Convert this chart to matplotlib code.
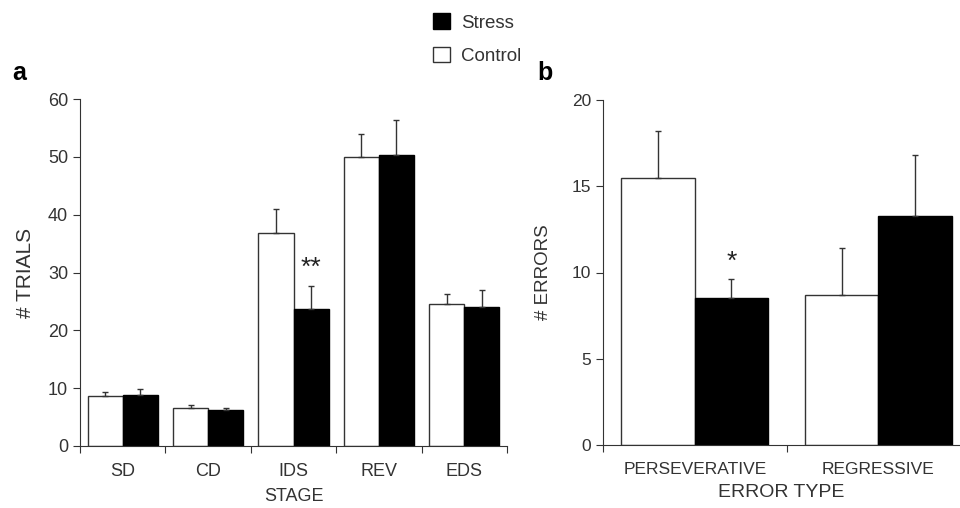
import matplotlib.pyplot as plt
import numpy as np
from matplotlib.patches import Patch

plt.rcParams['font.family'] = ['Liberation Sans', 'DejaVu Sans']

# panel a: trials per stage
stages = ['SD', 'CD', 'IDS', 'REV', 'EDS']
trials_control = [8.7, 6.6, 36.8, 50.0, 24.5]
trials_control_err = [0.7, 0.5, 4.2, 4.0, 1.7]
trials_stress = [8.9, 6.2, 23.7, 50.3, 24.0]
trials_stress_err = [1.0, 0.3, 3.9, 6.0, 3.0]

# panel b: errors per type
error_types = ['PERSEVERATIVE', 'REGRESSIVE']
errors_control = [15.5, 8.7]
errors_control_err = [2.7, 2.7]
errors_stress = [8.5, 13.3]
errors_stress_err = [1.1, 3.5]

fig = plt.figure(figsize=(9.6, 5.08), dpi=100)
ax_a = fig.add_axes([80 / 960, 62 / 508, 427 / 960, 347 / 508])
ax_b = fig.add_axes([603 / 960, 63 / 508, 357 / 960, 345 / 508])


def draw_bars(ax, n, ctrl, ctrl_err, stress, stress_err, width):
    x = np.arange(n)
    ax.bar(x - width / 2, ctrl, width, color='white', edgecolor='#333333', linewidth=1)
    ax.bar(x + width / 2, stress, width, color='black', edgecolor='black', linewidth=1)
    ax.errorbar(x - width / 2, ctrl, yerr=[np.zeros(n), ctrl_err], fmt='none',
                ecolor='#333333', elinewidth=1, capsize=2, capthick=1)
    ax.errorbar(x + width / 2, stress, yerr=[np.zeros(n), stress_err], fmt='none',
                ecolor='#333333', elinewidth=1, capsize=2, capthick=1)
    return x


def style_axis(ax, n, size):
    for s in ['top', 'right']:
        ax.spines[s].set_visible(False)
    ax.spines['left'].set_color('#333333')
    ax.spines['bottom'].set_color('#333333')
    ax.set_xticks(np.arange(n + 1) - 0.5)
    ax.set_xticklabels([])
    ax.set_xticks(np.arange(n), minor=True)
    ax.tick_params(axis='x', which='major', direction='out', length=5, color='#333333')
    ax.tick_params(axis='x', which='minor', length=0, labelsize=size, pad=12, colors='#333333')
    ax.tick_params(axis='y', direction='out', length=5, labelsize=size, colors='#333333')


x = draw_bars(ax_a, len(stages), trials_control, trials_control_err,
              trials_stress, trials_stress_err, 0.41)
style_axis(ax_a, len(stages), 13)
ax_a.set_xticklabels(stages, minor=True)
ax_a.set_xlim(-0.5, 4.5)
ax_a.set_ylim(0, 60)
ax_a.set_yticks(range(0, 61, 10))
ax_a.set_ylabel('# TRIALS', fontsize=15, color='#333333', labelpad=9)
ax_a.set_xlabel('STAGE', fontsize=13, color='#333333', labelpad=6)
ax_a.text(x[2] + 0.2, 28.8, '**', ha='center', va='bottom', fontsize=19, color='#222222')

x = draw_bars(ax_b, len(error_types), errors_control, errors_control_err,
              errors_stress, errors_stress_err, 0.4)
style_axis(ax_b, len(error_types), 12.5)
ax_b.set_xticklabels(error_types, minor=True)
ax_b.set_xlim(-0.5, 1.445)
ax_b.set_ylim(0, 20)
ax_b.set_yticks(range(0, 21, 5))
ax_b.set_ylabel('# ERRORS', fontsize=13.5, color='#333333', labelpad=14)
ax_b.set_xlabel('ERROR TYPE', fontsize=14, color='#333333', labelpad=5)
ax_b.text(x[0] + 0.2, 9.9, '*', ha='center', va='bottom', fontsize=19, color='#222222')

fig.text(12 / 960, 1 - 73 / 508, 'a', fontsize=18, fontweight='bold', va='center')
fig.text(537 / 960, 1 - 73 / 508, 'b', fontsize=18, fontweight='bold', va='center')

handles = [Patch(facecolor='black', edgecolor='black', label='Stress'),
           Patch(facecolor='white', edgecolor='#333333', label='Control')]
fig.legend(handles=handles, loc='upper left', bbox_to_anchor=(416 / 960, 1.007),
           frameon=False, fontsize=13.5, handlelength=0.9, handleheight=0.9,
           labelspacing=0.8, handletextpad=0.6, labelcolor='#333333')

plt.savefig('out.png', dpi=100)
